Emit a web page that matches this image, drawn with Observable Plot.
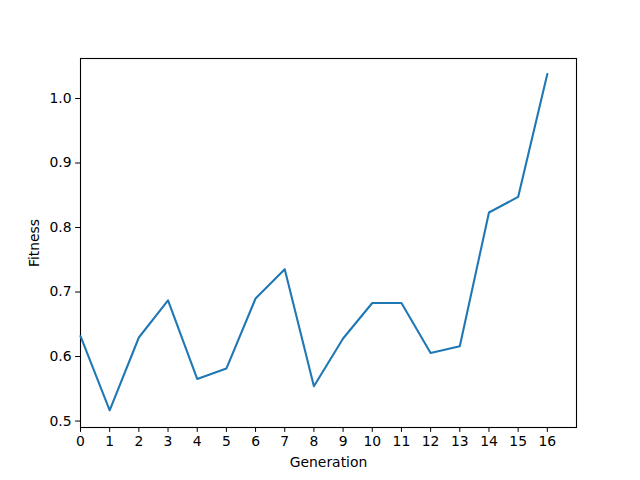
<!DOCTYPE html>
<html>
<head>
<meta charset="utf-8">
<script src="https://cdn.jsdelivr.net/npm/d3@7"></script>
<script src="https://cdn.jsdelivr.net/npm/@observablehq/plot@0.6"></script>
<style>
  html, body { margin: 0; padding: 0; background: #fff; }
  svg { display: block; }
</style>
</head>
<body>
<div id="chart"></div>
<script>
const generations = [0, 1, 2, 3, 4, 5, 6, 7, 8, 9, 10, 11, 12, 13, 14, 15, 16];
const fitness = [0.6315, 0.5167, 0.6295, 0.687, 0.5653, 0.5814, 0.690, 0.7353, 0.554, 0.628, 0.683, 0.683, 0.6056, 0.616, 0.8233, 0.8474, 1.038];
const xTicks = generations;
const yTicks = [0.5, 0.6, 0.7, 0.8, 0.9, 1.0];

const data = generations.map((g, i) => ({generation: g, fitness: fitness[i]}));

const chart = Plot.plot({
  width: 640,
  height: 480,
  marginLeft: 80,
  marginRight: 64,
  marginTop: 58,
  marginBottom: 53,
  style: {fontFamily: "DejaVu Sans", fontSize: "13.9px", color: "black", background: "white"},
  x: {domain: [0, 17]},
  y: {domain: [0.490, 1.062]},
  marks: [
    Plot.frame({stroke: "black", strokeWidth: 1.1}),
    Plot.axisX({ticks: xTicks, tickSize: 4.9, tickPadding: 4, tickFormat: d3.format("d"), label: "Generation", labelAnchor: "center", labelOffset: 39, labelArrow: "none", fontSize: "13.9px"}),
    Plot.axisY({ticks: yTicks, tickSize: 4.9, tickPadding: 4, tickFormat: d3.format(".1f"), label: "Fitness", labelAnchor: "center", labelOffset: 51, labelArrow: "none", fontSize: "13.9px"}),
    Plot.line(data, {x: "generation", y: "fitness", stroke: "#1f77b4", strokeWidth: 2.08})
  ]
});
document.getElementById("chart").appendChild(chart);
</script>
</body>
</html>
